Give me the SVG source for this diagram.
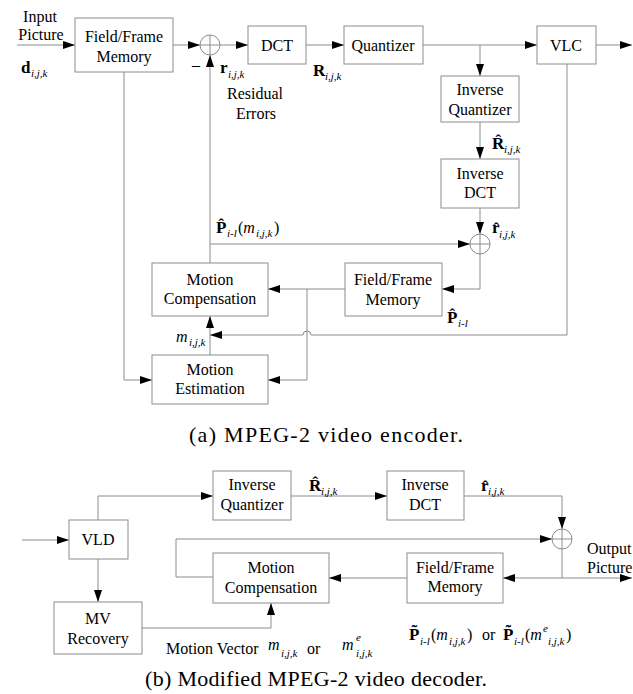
<svg xmlns="http://www.w3.org/2000/svg" width="633" height="694" viewBox="0 0 633 694">
<style>
text{font-family:'Liberation Serif','Times New Roman',serif;font-size:16px;fill:#000}
.c{text-anchor:middle}
.b{font-weight:bold;font-size:17px}
.s{font-style:italic;font-size:11px}
.i{font-style:italic}
.cap{font-size:22px}
.box{fill:#fff;stroke:#8c8c8c;stroke-width:1}
.ln{fill:none;stroke:#8c8c8c;stroke-width:1}
.ar{marker-end:url(#a)}
</style>
<defs>
<marker id="a" markerUnits="userSpaceOnUse" markerWidth="12" markerHeight="8" refX="12" refY="4" orient="auto">
<path d="M0,0 L12,4 L0,8 z" fill="#000"/>
</marker>
</defs>
<rect width="633" height="694" fill="#fff"/>
<g id="connectors">
<path class="ln ar" d="M17,45 H75"/>
<path class="ln ar" d="M173,45 H200"/>
<path class="ln ar" d="M220,45 H248"/>
<path class="ln ar" d="M306,45 H344"/>
<path class="ln ar" d="M423,45 H537"/>
<path class="ln ar" d="M596,45 H632"/>
<path class="ln ar" d="M480,45 V76"/>
<path class="ln ar" d="M480,122 V159"/>
<path class="ln ar" d="M480,208 V234"/>
<path class="ln ar" d="M210,244 H470"/>
<path class="ln ar" d="M210,263 V55"/>
<path class="ln ar" d="M480,254 V289 H442"/>
<path class="ln ar" d="M345,289 H268"/>
<path class="ln ar" d="M307,289 V380 H268"/>
<path class="ln ar" d="M210,355 V316"/>
<path class="ln ar" d="M124,72 V380 H152"/>
<path class="ln ar" d="M567,64 V335 H311 a4,4 0 0 0 -8,0 H210"/>
<path class="ln ar" d="M22,540 H69"/>
<path class="ln ar" d="M98,520 V496 H213"/>
<path class="ln ar" d="M291,496 H387"/>
<path class="ln ar" d="M464,496 H562 V529"/>
<path class="ln ar" d="M176,577 V539 H552"/>
<path class="ln" d="M176,577 H213"/>
<path class="ln ar" d="M562,549 V578 H632"/>
<path class="ln ar" d="M562,578 H503"/>
<path class="ln ar" d="M407,578 H329"/>
<path class="ln ar" d="M98,559 V602"/>
<path class="ln ar" d="M142,628 H271 V603"/>
</g>
<g id="ffm1"><rect class="box" x="75" y="18" width="98" height="54"/><text class="c" x="124" y="42">Field/Frame</text><text class="c" x="124" y="62">Memory</text></g>
<g id="sum1"><circle class="box" cx="210" cy="45" r="10"/><path class="ln" d="M200,45 H220 M210,35 V55"/></g>
<g id="dct"><rect class="box" x="248" y="26" width="58" height="38"/><text class="c" x="277" y="51">DCT</text></g>
<g id="quant"><rect class="box" x="344" y="26" width="79" height="38"/><text class="c" x="383" y="51">Quantizer</text></g>
<g id="vlc"><rect class="box" x="537" y="26" width="59" height="38"/><text class="c" x="566" y="51">VLC</text></g>
<g id="iq1"><rect class="box" x="441" y="76" width="78" height="46"/><text class="c" x="480" y="95">Inverse</text><text class="c" x="480" y="115">Quantizer</text></g>
<g id="idct1"><rect class="box" x="441" y="159" width="78" height="49"/><text class="c" x="480" y="179">Inverse</text><text class="c" x="480" y="198">DCT</text></g>
<g id="sum2"><circle class="box" cx="480" cy="244" r="10"/><path class="ln" d="M470,244 H490 M480,234 V254"/></g>
<g id="ffm2"><rect class="box" x="345" y="263" width="97" height="53"/><text class="c" x="393" y="285">Field/Frame</text><text class="c" x="393" y="305">Memory</text></g>
<g id="mc1"><rect class="box" x="152" y="263" width="116" height="53"/><text class="c" x="210" y="285">Motion</text><text class="c" x="210" y="304">Compensation</text></g>
<g id="me"><rect class="box" x="152" y="355" width="116" height="49"/><text class="c" x="210" y="375">Motion</text><text class="c" x="210" y="394">Estimation</text></g>
<g id="enc-labels">
<text class="c" x="40" y="22">Input</text>
<text class="c" x="41" y="40">Picture</text>
<text x="21" y="73"><tspan class="b">d</tspan><tspan class="s" x="31" y="77">i,j,k</tspan></text>
<text x="192" y="70">–</text>
<text x="220" y="73"><tspan class="b">r</tspan><tspan class="s" x="228" y="78">i,j,k</tspan></text>
<text class="c" x="255" y="99">Residual</text>
<text class="c" x="256" y="119">Errors</text>
<text x="313" y="76"><tspan class="b">R</tspan><tspan class="s" x="325" y="80">i,j,k</tspan></text>
<text x="492" y="149"><tspan class="b">R&#x302;</tspan><tspan class="s" x="504" y="153">i,j,k</tspan></text>
<text x="492" y="233"><tspan class="b">r&#x302;</tspan><tspan class="s" x="499" y="238">i,j,k</tspan></text>
<text x="216" y="233"><tspan class="b">P&#x302;</tspan><tspan class="s" x="227" y="237">i-l</tspan><tspan x="238" y="233">(</tspan><tspan class="i">m</tspan><tspan class="s" x="256" y="237">i,j,k</tspan><tspan x="274" y="233">)</tspan></text>
<text x="447" y="323"><tspan class="b">P&#x302;</tspan><tspan class="s" x="458" y="327">i-l</tspan></text>
<text x="176" y="342"><tspan class="i">m</tspan><tspan class="s" x="189" y="346">i,j,k</tspan></text>
</g>
<text class="c cap" x="326" y="442" textLength="274" lengthAdjust="spacing">(a) MPEG-2 video encoder.</text>
<g id="vld"><rect class="box" x="69" y="520" width="59" height="39"/><text class="c" x="98" y="545">VLD</text></g>
<g id="iq2"><rect class="box" x="213" y="471" width="78" height="49"/><text class="c" x="252" y="490">Inverse</text><text class="c" x="252" y="510">Quantizer</text></g>
<g id="idct2"><rect class="box" x="387" y="471" width="77" height="49"/><text class="c" x="425" y="490">Inverse</text><text class="c" x="425" y="510">DCT</text></g>
<g id="sum3"><circle class="box" cx="562" cy="539" r="10"/><path class="ln" d="M552,539 H572 M562,529 V549"/></g>
<g id="mc2"><rect class="box" x="213" y="553" width="116" height="50"/><text class="c" x="271" y="573">Motion</text><text class="c" x="271" y="593">Compensation</text></g>
<g id="ffm3"><rect class="box" x="407" y="553" width="96" height="50"/><text class="c" x="455" y="573">Field/Frame</text><text class="c" x="455" y="592">Memory</text></g>
<g id="mvr"><rect class="box" x="54" y="602" width="88" height="52"/><text class="c" x="98" y="624">MV</text><text class="c" x="98" y="644">Recovery</text></g>
<g id="dec-labels">
<text x="309" y="491"><tspan class="b">R&#x302;</tspan><tspan class="s" x="321" y="495">i,j,k</tspan></text>
<text x="481" y="491"><tspan class="b">r&#x302;</tspan><tspan class="s" x="488" y="495">i,j,k</tspan></text>
<text x="587" y="554">Output</text>
<text x="587" y="573">Picture</text>
<text x="166" y="654">Motion Vector</text>
<text x="268" y="650"><tspan class="i">m</tspan><tspan class="s" x="281" y="657">i,j,k</tspan></text>
<text x="307" y="654">or</text>
<text x="342" y="650"><tspan class="i">m</tspan><tspan class="s" x="356" y="641">e</tspan><tspan class="s" x="356" y="657">i,j,k</tspan></text>
<text x="409" y="640"><tspan class="b">P&#x303;</tspan><tspan class="s" x="420" y="645">i-l</tspan><tspan x="431" y="640">(</tspan><tspan class="i">m</tspan><tspan class="s" x="449" y="645">i,j,k</tspan><tspan x="467" y="640">)</tspan></text>
<text x="482" y="640">or</text>
<text x="503" y="640"><tspan class="b">P&#x303;</tspan><tspan class="s" x="514" y="645">i-l</tspan><tspan x="525" y="640">(</tspan><tspan class="i">m</tspan><tspan class="s" x="543" y="632">e</tspan><tspan class="s" x="548" y="645">i,j,k</tspan><tspan x="566" y="640">)</tspan></text>
</g>
<text class="c cap" x="316" y="686" textLength="342" lengthAdjust="spacing">(b) Modified MPEG-2 video decoder.</text>
</svg>
